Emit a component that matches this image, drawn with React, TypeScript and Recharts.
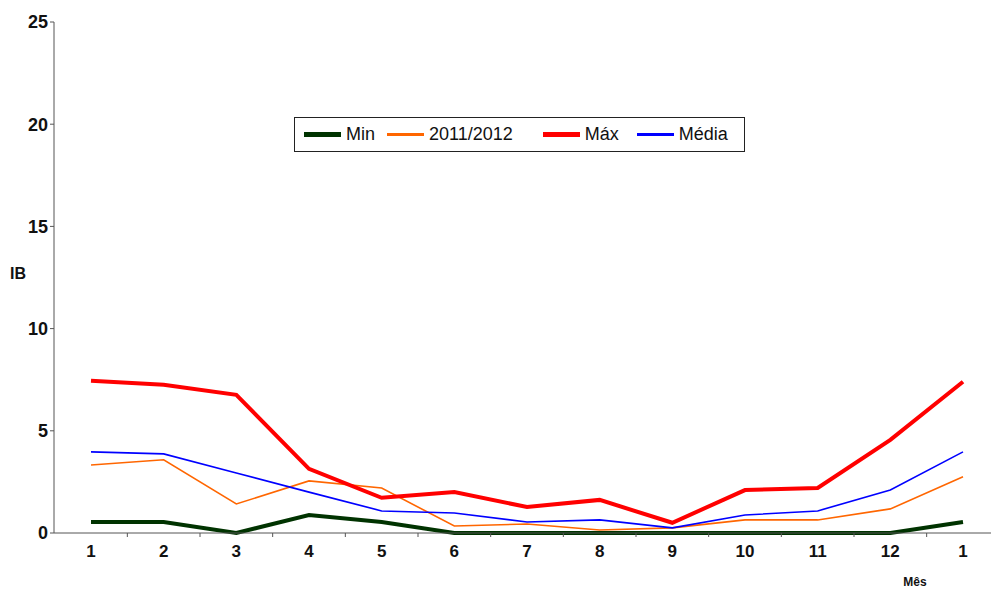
import { LineChart, Line, XAxis, YAxis } from "recharts";

const months = ["1", "2", "3", "4", "5", "6", "7", "8", "9", "10", "11", "12", "1"];
const minIB = [0.54, 0.54, 0, 0.88, 0.54, 0, 0, 0, 0, 0, 0, 0, 0.54];
const season = [3.33, 3.58, 1.42, 2.55, 2.2, 0.34, 0.44, 0.15, 0.25, 0.64, 0.64, 1.18, 2.75];
const maxIB = [7.45, 7.25, 6.76, 3.14, 1.72, 2.0, 1.27, 1.62, 0.5, 2.1, 2.2, 4.56, 7.4];
const meanIB = [3.97, 3.87, 2.94, 2.0, 1.08, 0.98, 0.54, 0.64, 0.25, 0.88, 1.08, 2.1, 3.97];
const yTicks = [0, 5, 10, 15, 20, 25];

const series = [
  { key: "min", name: "Min", color: "#003300", width: 4 },
  { key: "season", name: "2011/2012", color: "#ff6600", width: 1.6 },
  { key: "max", name: "Máx", color: "#ff0000", width: 4 },
  { key: "mean", name: "Média", color: "#0000ff", width: 1.6 },
];

const data = months.map((m, i) => ({
  idx: i,
  month: m,
  min: minIB[i],
  season: season[i],
  max: maxIB[i],
  mean: meanIB[i],
}));

const font = "'Liberation Sans', Arial, sans-serif";
const step = 72.67;

const MonthTick = (props: any) => {
  const { x, y, payload, index } = props;
  return (
    <g>
      {index < months.length - 1 && (
        <line x1={x + step / 2} x2={x + step / 2} y1={y - 8} y2={y - 4} stroke="#555" />
      )}
      <text x={x} y={y + 16} textAnchor="middle" fontFamily={font} fontWeight="bold" fontSize={17} fill="#111">
        {months[payload.value]}
      </text>
    </g>
  );
};

const LegendBox = () => (
  <div
    style={{
      position: "absolute",
      left: 294,
      top: 117,
      width: 451,
      border: "1px solid #222",
      height: 35,
      display: "flex",
      alignItems: "center",
      fontFamily: font,
      fontSize: 18,
      color: "#111",
      boxSizing: "border-box",
      paddingLeft: 9,
      background: "#fff",
    }}
  >
    {series.map((s, i) => (
      <div key={s.key} style={{ display: "flex", alignItems: "center", marginRight: [12, 30, 18, 0][i] }}>
        <span style={{ display: "inline-block", width: 37, height: s.width + 0.5, background: s.color, marginRight: 5 }} />
        <span>{s.name}</span>
      </div>
    ))}
  </div>
);

export default function App() {
  return (
    <div style={{ position: "absolute", left: 0, top: 0, width: 991, height: 593, background: "#fff" }}>
      <LineChart width={991} height={593} data={data} margin={{ top: 22, right: 0, left: 0, bottom: 0 }}>
        <XAxis
          dataKey="idx"
          type="category"
          height={60}
          padding={{ left: 37, right: 28 }}
          tickLine={false}
          axisLine={{ stroke: "#555" }}
          tick={<MonthTick />}
          interval={0}
          label={{
            content: (p: any) => (
              <text
                x={p.viewBox.x + p.viewBox.width - 76}
                y={p.viewBox.y + 53}
                textAnchor="middle"
                fontFamily={font}
                fontWeight="bold"
                fontSize={12}
                fill="#111"
              >
                Mês
              </text>
            ),
          }}
        />
        <YAxis
          width={54}
          domain={[0, 25]}
          ticks={yTicks}
          interval={0}
          axisLine={{ stroke: "#555" }}
          tickLine={{ stroke: "#555" }}
          tickSize={4}
          tickMargin={2}
          tick={{ fontFamily: font, fontWeight: "bold", fontSize: 18, fill: "#111" }}
          label={{
            content: (p: any) => (
              <text
                x={p.viewBox.x + 18}
                y={p.viewBox.y + p.viewBox.height / 2 - 4}
                textAnchor="middle"
                dominantBaseline="central"
                fontFamily={font}
                fontWeight="bold"
                fontSize={16}
                fill="#111"
              >
                IB
              </text>
            ),
          }}
        />
        {series.map((s) => (
          <Line
            key={s.key}
            dataKey={s.key}
            name={s.name}
            stroke={s.color}
            strokeWidth={s.width}
            dot={false}
            activeDot={false}
            isAnimationActive={false}
            type="linear"
          />
        ))}
      </LineChart>
      <LegendBox />
    </div>
  );
}
